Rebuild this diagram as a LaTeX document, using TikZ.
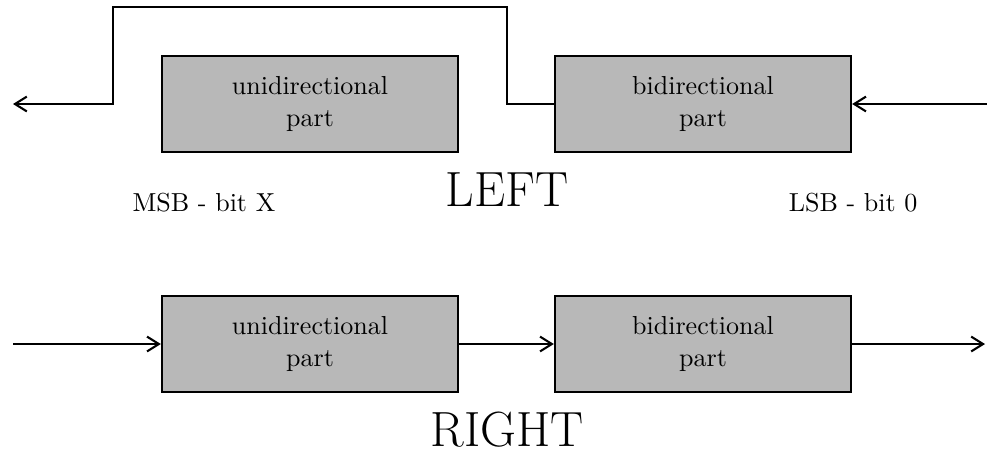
\documentclass[tikz,border=0pt]{standalone}
\usetikzlibrary{arrows.meta}
\begin{document}
\begin{tikzpicture}[x=0.0135cm, y=-0.0135cm,
  part/.style={draw, thick, fill=black!28, minimum width=4cm, minimum height=1.3cm, align=center, inner sep=0pt},
  wire/.style={thick, -{Straight Barb[length=1.6mm, width=2mm]}},
  title/.style={font=\fontsize{19}{22}\selectfont, anchor=base, inner sep=0pt}]
  \useasboundingbox (0,0) rectangle (987,452);
  \node[part] (uniL) at (310,104) {unidirectional\\part};
  \node[part] (biL) at (703,104) {bidirectional\\part};
  \node[part] (uniR) at (310,344) {unidirectional\\part};
  \node[part] (biR) at (703,344) {bidirectional\\part};
  \coordinate (tr) at (507,7);
  \coordinate (tl) at (113,7);
  \coordinate (outL) at (13,104);
  \coordinate (inL) at (987,104);
  \coordinate (inR) at (13,344);
  \coordinate (outR) at (985,344);
  \draw[wire] (biL.west) -| (tr) -- (tl) |- (outL);
  \draw[wire] (inL) -- (biL.east);
  \draw[wire] (inR) -- (uniR.west);
  \draw[wire] (uniR.east) -- (biR.west);
  \draw[wire] (biR.east) -- (outR);
  \node[title] (left) at (507,206) {LEFT};
  \node[anchor=base west, inner sep=0pt] (msb) at (132,211) {MSB - bit X};
  \node[anchor=base east, inner sep=0pt] (lsb) at (918,211) {LSB - bit 0};
  \node[title] (right) at (507,446) {RIGHT};
\end{tikzpicture}
\end{document}
